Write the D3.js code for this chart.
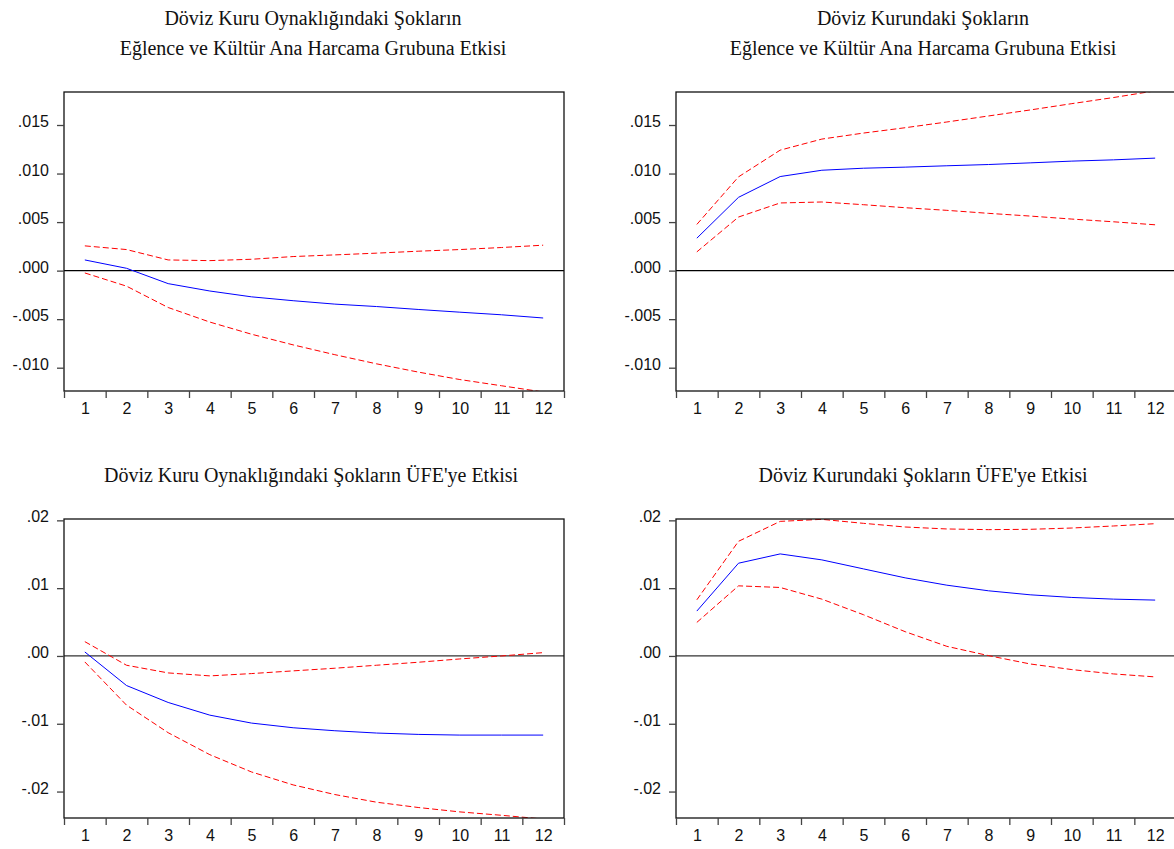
<!DOCTYPE html>
<html>
<head>
<meta charset="utf-8">
<script src="https://cdn.jsdelivr.net/npm/d3@7"></script>
<style>
  html, body { margin: 0; padding: 0; background: #fff; }
  svg { display: block; }
</style>
</head>
<body>
<svg id="chart" width="1174" height="849"></svg>
<script>
// ---------- DATA ----------
const periods = [1, 2, 3, 4, 5, 6, 7, 8, 9, 10, 11, 12];

// Top-left: Döviz Kuru Oynaklığı -> Eğlence ve Kültür
const tlResp  = [0.00110, 0.00024, -0.00134, -0.00210, -0.00270, -0.00310, -0.00345, -0.00370, -0.00400, -0.00428, -0.00455, -0.00488];
const tlUpper = [0.00255, 0.00217, 0.00110, 0.00103, 0.00117, 0.00145, 0.00162, 0.00180, 0.00200, 0.00217, 0.00238, 0.00262];
const tlLower = [-0.00024, -0.00160, -0.00380, -0.00530, -0.00655, -0.00765, -0.00866, -0.00960, -0.01045, -0.01122, -0.01186, -0.01250];

// Top-right: Döviz Kuru -> Eğlence ve Kültür
const trResp  = [0.00334, 0.00755, 0.00969, 0.01034, 0.01055, 0.01066, 0.01080, 0.01093, 0.01110, 0.01128, 0.01141, 0.01159];
const trUpper = [0.00476, 0.00966, 0.01241, 0.01355, 0.01417, 0.01472, 0.01531, 0.01593, 0.01655, 0.01720, 0.01783, 0.01852];
const trLower = [0.00193, 0.00552, 0.00697, 0.00707, 0.00679, 0.00648, 0.00621, 0.00590, 0.00562, 0.00531, 0.00503, 0.00472];

// Bottom-left: Döviz Kuru Oynaklığı -> ÜFE
const blResp  = [0.00059, -0.00436, -0.00686, -0.00873, -0.00990, -0.01059, -0.01103, -0.01137, -0.01157, -0.01167, -0.01167, -0.01167];
const blUpper = [0.00211, -0.00137, -0.00250, -0.00294, -0.00260, -0.00220, -0.00181, -0.00137, -0.00093, -0.00044, 0.00000, 0.00049];
const blLower = [-0.00088, -0.00725, -0.01132, -0.01456, -0.01711, -0.01902, -0.02044, -0.02157, -0.02235, -0.02300, -0.02350, -0.02405];

// Bottom-right: Döviz Kuru -> ÜFE
const brResp  = [0.00662, 0.01368, 0.01505, 0.01417, 0.01284, 0.01152, 0.01044, 0.00961, 0.00902, 0.00863, 0.00838, 0.00824];
const brUpper = [0.00828, 0.01691, 0.01985, 0.02015, 0.01956, 0.01902, 0.01873, 0.01863, 0.01868, 0.01887, 0.01917, 0.01951];
const brLower = [0.00495, 0.01034, 0.01010, 0.00838, 0.00608, 0.00358, 0.00142, 0.00005, -0.00118, -0.00201, -0.00265, -0.00309];

// Axis ticks
const topYTicks = [0.015, 0.010, 0.005, 0.000, -0.005, -0.010];
const topYLabels = [".015", ".010", ".005", ".000", "-.005", "-.010"];
const topYDomain = [-0.0124, 0.0184];
const botYTicks = [0.02, 0.01, 0.00, -0.01, -0.02];
const botYLabels = [".02", ".01", ".00", "-.01", "-.02"];
const botYDomain = [-0.0239, 0.0202];

// Titles
const titleTL = ["Döviz Kuru Oynaklığındaki Şokların", "Eğlence ve Kültür Ana Harcama Grubuna Etkisi"];
const titleTR = ["Döviz Kurundaki Şokların", "Eğlence ve Kültür Ana Harcama Grubuna Etkisi"];
const titleBL = ["Döviz Kuru Oynaklığındaki Şokların ÜFE'ye Etkisi"];
const titleBR = ["Döviz Kurundaki Şokların ÜFE'ye Etkisi"];

// ---------- DRAW ----------
const svg = d3.select("#chart");
const W = 500;

const panels = [
  { left: 64,  top: 92,  bottom: 391, resp: tlResp, up: tlUpper, lo: tlLower, ticks: topYTicks, labels: topYLabels, dom: topYDomain, title: titleTL, titleY: [25, 55], cx: 313 },
  { left: 676, top: 92,  bottom: 391, resp: trResp, up: trUpper, lo: trLower, ticks: topYTicks, labels: topYLabels, dom: topYDomain, title: titleTR, titleY: [25, 55], cx: 923 },
  { left: 64,  top: 519, bottom: 818, resp: blResp, up: blUpper, lo: blLower, ticks: botYTicks, labels: botYLabels, dom: botYDomain, title: titleBL, titleY: [482], cx: 311 },
  { left: 676, top: 519, bottom: 818, resp: brResp, up: brUpper, lo: brLower, ticks: botYTicks, labels: botYLabels, dom: botYDomain, title: titleBR, titleY: [482], cx: 923 }
];

panels.forEach((p, pi) => {
  const g = svg.append("g");
  const x = d3.scaleLinear().domain([0.5, 12.5]).range([p.left, p.left + W]);
  const y = d3.scaleLinear().domain(p.dom).range([p.bottom, p.top]);

  // title
  p.title.forEach((t, i) => {
    g.append("text")
      .attr("x", p.cx).attr("y", p.titleY[i])
      .attr("text-anchor", "middle")
      .attr("font-family", "'Liberation Serif', 'Times New Roman', serif")
      .attr("font-size", 20)
      .attr("fill", "#111")
      .text(t);
  });

  // clip
  const clipId = "clip" + pi;
  svg.append("clipPath").attr("id", clipId)
    .append("rect").attr("x", p.left).attr("y", p.top)
    .attr("width", W).attr("height", p.bottom - p.top);

  // zero line
  g.append("line")
    .attr("x1", p.left).attr("x2", p.left + W)
    .attr("y1", y(0)).attr("y2", y(0))
    .attr("stroke", pi < 2 ? "#000" : "#333").attr("stroke-width", 1.2);

  const line = d3.line().x((d, i) => x(periods[i])).y(d => y(d));

  const lg = g.append("g").attr("clip-path", `url(#${clipId})`);
  [p.up, p.lo].forEach(arr => {
    lg.append("path").datum(arr)
      .attr("d", line)
      .attr("fill", "none")
      .attr("stroke", "#ff0000")
      .attr("stroke-width", 1)
      .attr("stroke-dasharray", "6,3");
  });
  lg.append("path").datum(p.resp)
    .attr("d", line)
    .attr("fill", "none")
    .attr("stroke", "#0000ff")
    .attr("stroke-width", 1);

  // frame
  g.append("rect")
    .attr("x", p.left).attr("y", p.top)
    .attr("width", W).attr("height", p.bottom - p.top)
    .attr("fill", "none").attr("stroke", "#111").attr("stroke-width", 1.3);

  // y axis
  const yAxis = d3.axisLeft(y)
    .tickValues(p.ticks)
    .tickSize(7)
    .tickPadding(8)
    .tickFormat((d, i) => p.labels[i]);
  const ya = g.append("g").attr("transform", `translate(${p.left},0)`).call(yAxis);
  ya.select(".domain").remove();
  ya.selectAll(".tick line").attr("stroke", "#444").attr("stroke-width", 1.3);
  ya.selectAll(".tick text")
    .attr("dy", "0.1em")
    .attr("fill", "#111")
    .attr("font-family", "'Liberation Sans', Arial, sans-serif")
    .attr("font-size", 16);

  // x axis: ticks at period boundaries, labels at period centres
  const bounds = d3.range(0, 13).map(k => k + 0.5);
  const xTicks = d3.axisBottom(x).tickValues(bounds).tickSize(7).tickFormat("");
  const xa = g.append("g").attr("transform", `translate(0,${p.bottom})`).call(xTicks);
  xa.select(".domain").remove();
  xa.selectAll(".tick line").attr("stroke", "#444").attr("stroke-width", 1.3);

  const xLab = d3.axisBottom(x).tickValues(periods).tickSize(0).tickPadding(12).tickFormat(d3.format("d"));
  const xl = g.append("g").attr("transform", `translate(0,${p.bottom})`).call(xLab);
  xl.select(".domain").remove();
  xl.selectAll(".tick text")
    .attr("fill", "#111")
    .attr("font-family", "'Liberation Sans', Arial, sans-serif")
    .attr("font-size", 16);
});
</script>
</body>
</html>
